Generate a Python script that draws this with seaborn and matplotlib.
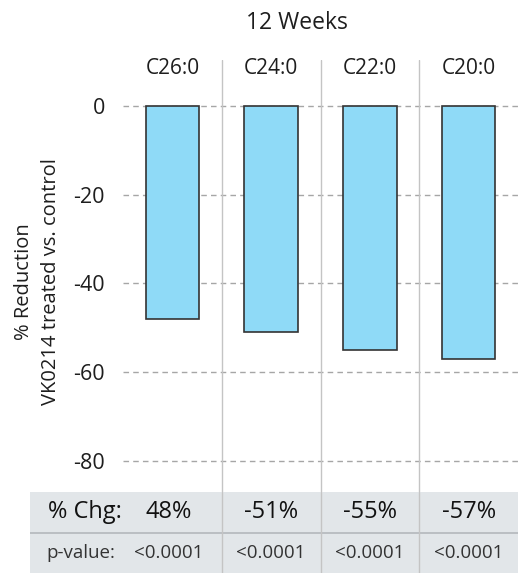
import matplotlib
matplotlib.use("Agg")
import matplotlib.pyplot as plt
import seaborn as sns
import pandas as pd

categories = ["C26:0", "C24:0", "C22:0", "C20:0"]
values = [-48, -51, -55, -57]
yticks = [0, -20, -40, -60, -80]
pct_labels = ["48%", "-51%", "-55%", "-57%"]
pvalues = ["<0.0001", "<0.0001", "<0.0001", "<0.0001"]
title = "12 Weeks"
ylabel = "% Reduction\nVK0214 treated vs. control"

sns.set_style("white")
plt.rcParams['font.family'] = ['Open Sans', 'DejaVu Sans']
plt.rcParams['axes.unicode_minus'] = False

W, H = 518, 573
fig = plt.figure(figsize=(W / 100, H / 100), dpi=100)

def px_axes(left, top, right, bottom):
    return fig.add_axes([left / W, 1 - bottom / H, (right - left) / W, (bottom - top) / H])

TXT = "#1E1E1E"

# main chart axes: px 123..518 x, 60..492 y
ax = px_axes(123, 60, 518, 492)
df = pd.DataFrame({"cat": categories, "val": values})
sns.barplot(data=df, x="cat", y="val", order=categories, color="#8FDAF7",
            saturation=1, edgecolor="#333333", linewidth=1.2, width=0.54, ax=ax)
ax.set_xlim(-0.5, 3.5)
ax.set_ylim(-87.0, 10.37)
for t in yticks:
    ax.axhline(t, color="#A6A6A6", linestyle=(0, (4, 3)), linewidth=1, zorder=0)
for xv in [0.5, 1.5, 2.5]:
    ax.axvline(xv, color="#C4C4C4", linewidth=1, zorder=0)
ax.set_yticks(yticks)
ax.set_yticklabels([str(t) for t in yticks], fontsize=15.5, color=TXT)
ax.tick_params(axis="y", length=0, pad=13)
ax.set_xticks([])
ax.set_xlabel("")
ax.set_ylabel(ylabel, fontsize=14.5, color=TXT, linespacing=1.5)
ax.yaxis.label.set_verticalalignment("center")
ax.yaxis.set_label_coords(-0.217, 0.486)
for s in ax.spines.values():
    s.set_visible(False)
for i, c in enumerate(categories):
    ax.text(i, 8.4, c, ha="center", va="center", fontsize=15, color=TXT)

fig.text(297 / W, 1 - 23 / H, title, ha="center", va="center", fontsize=16.5, color=TXT)

# table axes: px 30..518 x, 492..573 y
tx = px_axes(30, 492, 518, 573)
tx.set_xlim(-0.5 - 93 / 98.75, 3.5)
tx.set_ylim(0, 2)
tx.axhspan(0, 2, color="#E2E6E9", zorder=0)
tx.axhline(1, color="#B4B8BC", linewidth=1.2, zorder=1)
for xv in [0.5, 1.5, 2.5]:
    tx.axvline(xv, color="#C4C4C4", linewidth=1, zorder=1)
tx.set_xticks([])
tx.set_yticks([])
for s in tx.spines.values():
    s.set_visible(False)

tx.text(-1.26, 1.5, "% Chg:", ha="left", va="center", fontsize=17, color="#111111")
tx.text(-1.28, 0.5, "p-value:", ha="left", va="center", fontsize=13.5, color="#333333")
for i, (p, pv) in enumerate(zip(pct_labels, pvalues)):
    xc = -0.04 if i == 0 else i
    tx.text(xc, 1.5, p, ha="center", va="center", fontsize=17, color="#111111")
    tx.text(xc, 0.5, pv, ha="center", va="center", fontsize=13.5, color="#333333")

fig.savefig("out.png", dpi=100)
